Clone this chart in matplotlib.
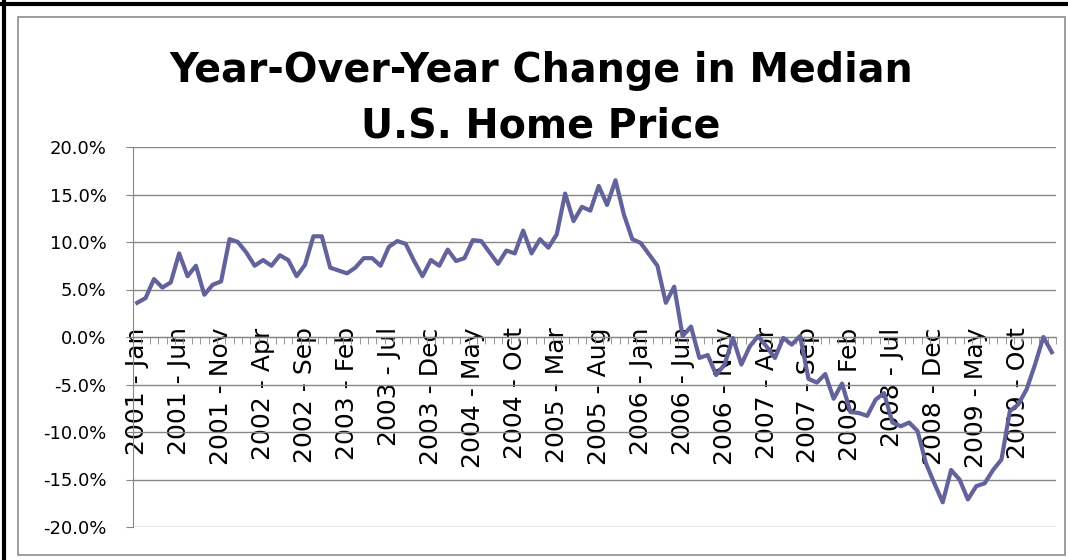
import numpy as np
import matplotlib.pyplot as plt
from matplotlib.lines import Line2D
from matplotlib.patches import Rectangle

# Year-over-year change of median US home price, monthly Jan 2001 .. Feb 2010 (%)
yoy_change = [
    3.6, 4.1, 6.1, 5.2, 5.75, 8.8, 6.4, 7.5, 4.45, 5.5, 5.85, 10.3,
    10.0, 8.9, 7.5, 8.1, 7.5, 8.6, 8.1, 6.4, 7.6, 10.6, 10.6, 7.3,
    7.0, 6.7, 7.3, 8.3, 8.3, 7.5, 9.5, 10.1, 9.8, 8.0, 6.4, 8.1,
    7.5, 9.2, 8.0, 8.3, 10.2, 10.1, 8.9, 7.7, 9.1, 8.8, 11.2, 8.8,
    10.3, 9.4, 10.8, 15.1, 12.2, 13.7, 13.3, 15.9, 13.9, 16.5, 12.9, 10.3,
    9.9, 8.7, 7.5, 3.6, 5.3, 0.1, 1.1, -2.2, -1.9, -4.0, -2.9, -0.1,
    -2.9, -1.0, 0.1, -1.0, -2.2, -0.1, -0.8, 0.1, -4.4, -4.8, -3.9, -6.5,
    -4.9, -7.9, -8.0, -8.3, -6.6, -5.9, -9.0, -9.4, -9.0, -9.9, -13.3, -15.4,
    -17.4, -14.0, -15.0, -17.1, -15.7, -15.4, -14.0, -12.9, -7.8, -7.1, -5.5, -2.9,
    0.0, -1.6,
]

# one label every 5 months
tick_labels = [
    '2001 - Jan', '2001 - Jun', '2001 - Nov', '2002 - Apr', '2002 - Sep',
    '2003 - Feb', '2003 - Jul', '2003 - Dec', '2004 - May', '2004 - Oct',
    '2005 - Mar', '2005 - Aug', '2006 - Jan', '2006 - Jun', '2006 - Nov',
    '2007 - Apr', '2007 - Sep', '2008 - Feb', '2008 - Jul', '2008 - Dec',
    '2009 - May', '2009 - Oct',
]
label_step = 5
y_ticks = [-20, -15, -10, -5, 0, 5, 10, 15, 20]

W, H = 1068, 560
line_color = '#62629c'
grid_color = '#868686'

fig = plt.figure(figsize=(W / 100, H / 100), dpi=100)

# chart frame: thick black on top/left, thin grey chart area
fig.add_artist(Line2D([4 / W, 4 / W], [0, 1 - 2 / H], color='black', lw=3))
fig.add_artist(Line2D([2 / W, 1], [1 - 4 / H, 1 - 4 / H], color='black', lw=3))
fig.add_artist(Rectangle((18 / W, 5 / H), 1047 / W, 538 / H, fill=False,
                         edgecolor='#8c8c8c', lw=1.2))

ax = fig.add_axes([133 / W, 33 / H, 923 / W, 380 / H])

# category axis crosses at 0 (set before tick styling, it resets ticks)
for s in ['top', 'right']:
    ax.spines[s].set_visible(False)
ax.spines['bottom'].set_position(('data', 0))
ax.spines['left'].set_color(grid_color)
ax.spines['bottom'].set_color(grid_color)

x = np.arange(len(yoy_change))
ax.plot(x, yoy_change, color=line_color, lw=3, zorder=3)

ax.set_xlim(-0.5, len(yoy_change) - 0.5)
ax.set_ylim(-20, 20)

ax.set_yticks(y_ticks)
ax.set_yticklabels([f'{v:.1f}%' for v in y_ticks], fontsize=13)
ax.grid(axis='y', color=grid_color, lw=1)
ax.tick_params(axis='y', length=5, color=grid_color, pad=14)

ax.set_xticks(np.arange(0, len(yoy_change), label_step)[:len(tick_labels)])
ax.set_xticklabels(tick_labels, rotation=90, fontsize=18)
ax.set_xticks(np.arange(-0.5, len(yoy_change), 1), minor=True)
ax.tick_params(axis='x', which='major', length=0, pad=-7)
ax.tick_params(axis='x', which='minor', length=5, color=grid_color)

fig.text(541 / W, 1 - 82 / H, 'Year-Over-Year Change in Median', ha='center',
         va='baseline', fontsize=28.5, fontweight='bold')
fig.text(541 / W, 1 - 137 / H, 'U.S. Home Price', ha='center',
         va='baseline', fontsize=28.5, fontweight='bold')

fig.savefig('out.png', dpi=100)
